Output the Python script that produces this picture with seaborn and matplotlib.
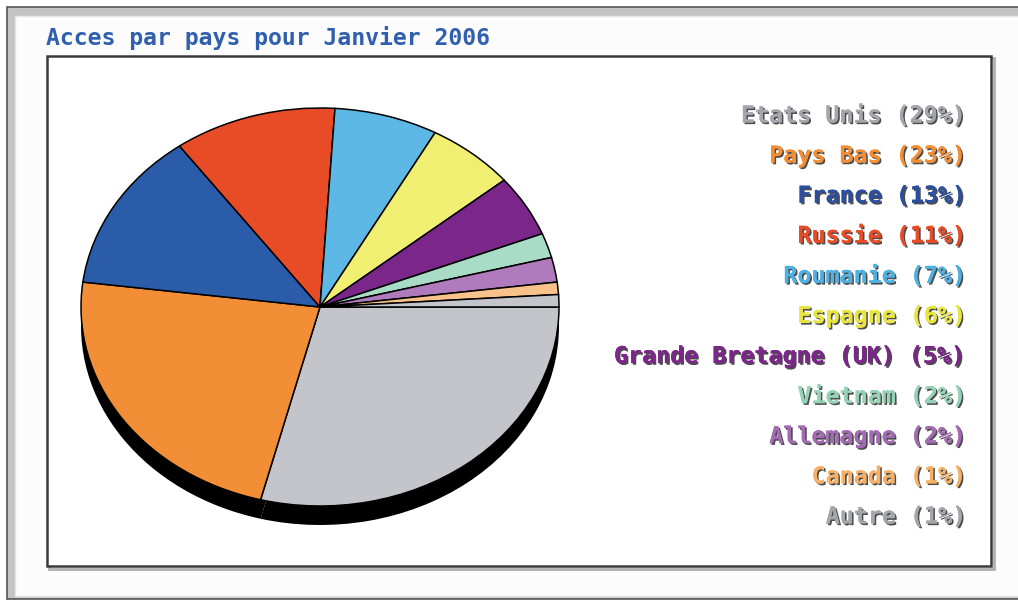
import matplotlib
matplotlib.use("Agg")
import matplotlib.pyplot as plt
import matplotlib.patheffects as pe
from matplotlib.patches import Rectangle
import seaborn as sns

# data
countries = ["Etats Unis", "Pays Bas", "France", "Russie", "Roumanie", "Espagne",
             "Grande Bretagne (UK)", "Vietnam", "Allemagne", "Canada", "Autre"]
shares = [29, 23, 13, 11, 7, 6, 5, 2, 2, 1, 1]
slice_colors = ["#c3c5ca", "#f28e35", "#2b5ca9", "#e84c27", "#5db8e6", "#f1ef72",
                "#7b2689", "#a9dcc6", "#b07bbd", "#f8c28a", "#c3c5ca"]
text_colors = ["#a4a6ac", "#f28e35", "#2b4f9e", "#e84c27", "#4fb0e2", "#e8e540",
               "#7b2689", "#95d2b6", "#a36bb2", "#f6b066", "#a4a6ac"]
title = "Acces par pays pour Janvier 2006"

W, H = 1018, 602
sns.set_theme(style="white")
plt.rcParams["font.family"] = ["DejaVu Sans Mono", "DejaVu Sans"]
palette = sns.color_palette(slice_colors)

fig = plt.figure(figsize=(W / 100, H / 100), dpi=100)
fig.patch.set_facecolor("white")

# background layer in pixel coordinates
bg = fig.add_axes([0, 0, 1, 1])
bg.set_xlim(0, W)
bg.set_ylim(H, 0)
bg.axis("off")

# outer window frame
bg.add_patch(Rectangle((7, 7), W + 20, 592, facecolor="#c4c4c4", edgecolor="#555555", lw=1.2))
bg.add_patch(Rectangle((15, 16), W + 20, 580, facecolor="#fcfcfc", edgecolor="#e6e6e6", lw=1))

# inner chart box with a soft shadow
bg.add_patch(Rectangle((49, 58), 945, 511, facecolor="none", edgecolor="#b0b0b0", lw=2))
bg.add_patch(Rectangle((47, 56), 944, 510, facecolor="white", edgecolor="#3a3a3a", lw=1.8))

bg.text(46, 38, title, color="#2f5fae", fontsize=16.7, fontweight="bold",
        ha="left", va="center")

# pie (elliptical) with a dark shadow underneath
cx, cy, rx, ry, drop = 320, 307, 239, 199, 19
ax = fig.add_axes([(cx - rx) / W, (H - cy - ry - drop) / H, 2 * rx / W, (2 * ry + drop) / H])
ax.pie(shares, colors=["black"] * len(shares), startangle=0, counterclock=False,
       center=(0, -drop / ry), wedgeprops=dict(linewidth=0))
ax.pie(shares, colors=palette, startangle=0, counterclock=False,
       wedgeprops=dict(edgecolor="black", linewidth=1.1))
ax.set_aspect("auto")
ax.set_xlim(-1, 1)
ax.set_ylim(-1 - drop / ry, 1)
ax.axis("off")

# legend texts, right aligned
shadow = [pe.withSimplePatchShadow(offset=(1.2, -1.2), shadow_rgbFace="#111111", alpha=0.75),
          pe.Normal()]
for i, (name, pct) in enumerate(zip(countries, shares)):
    bg.text(967, 116 + i * 40.1, f"{name} ({pct}%)", color=text_colors[i],
            fontsize=16.8, fontweight="bold", ha="right", va="center",
            path_effects=shadow)

fig.savefig("out.png", dpi=100)
